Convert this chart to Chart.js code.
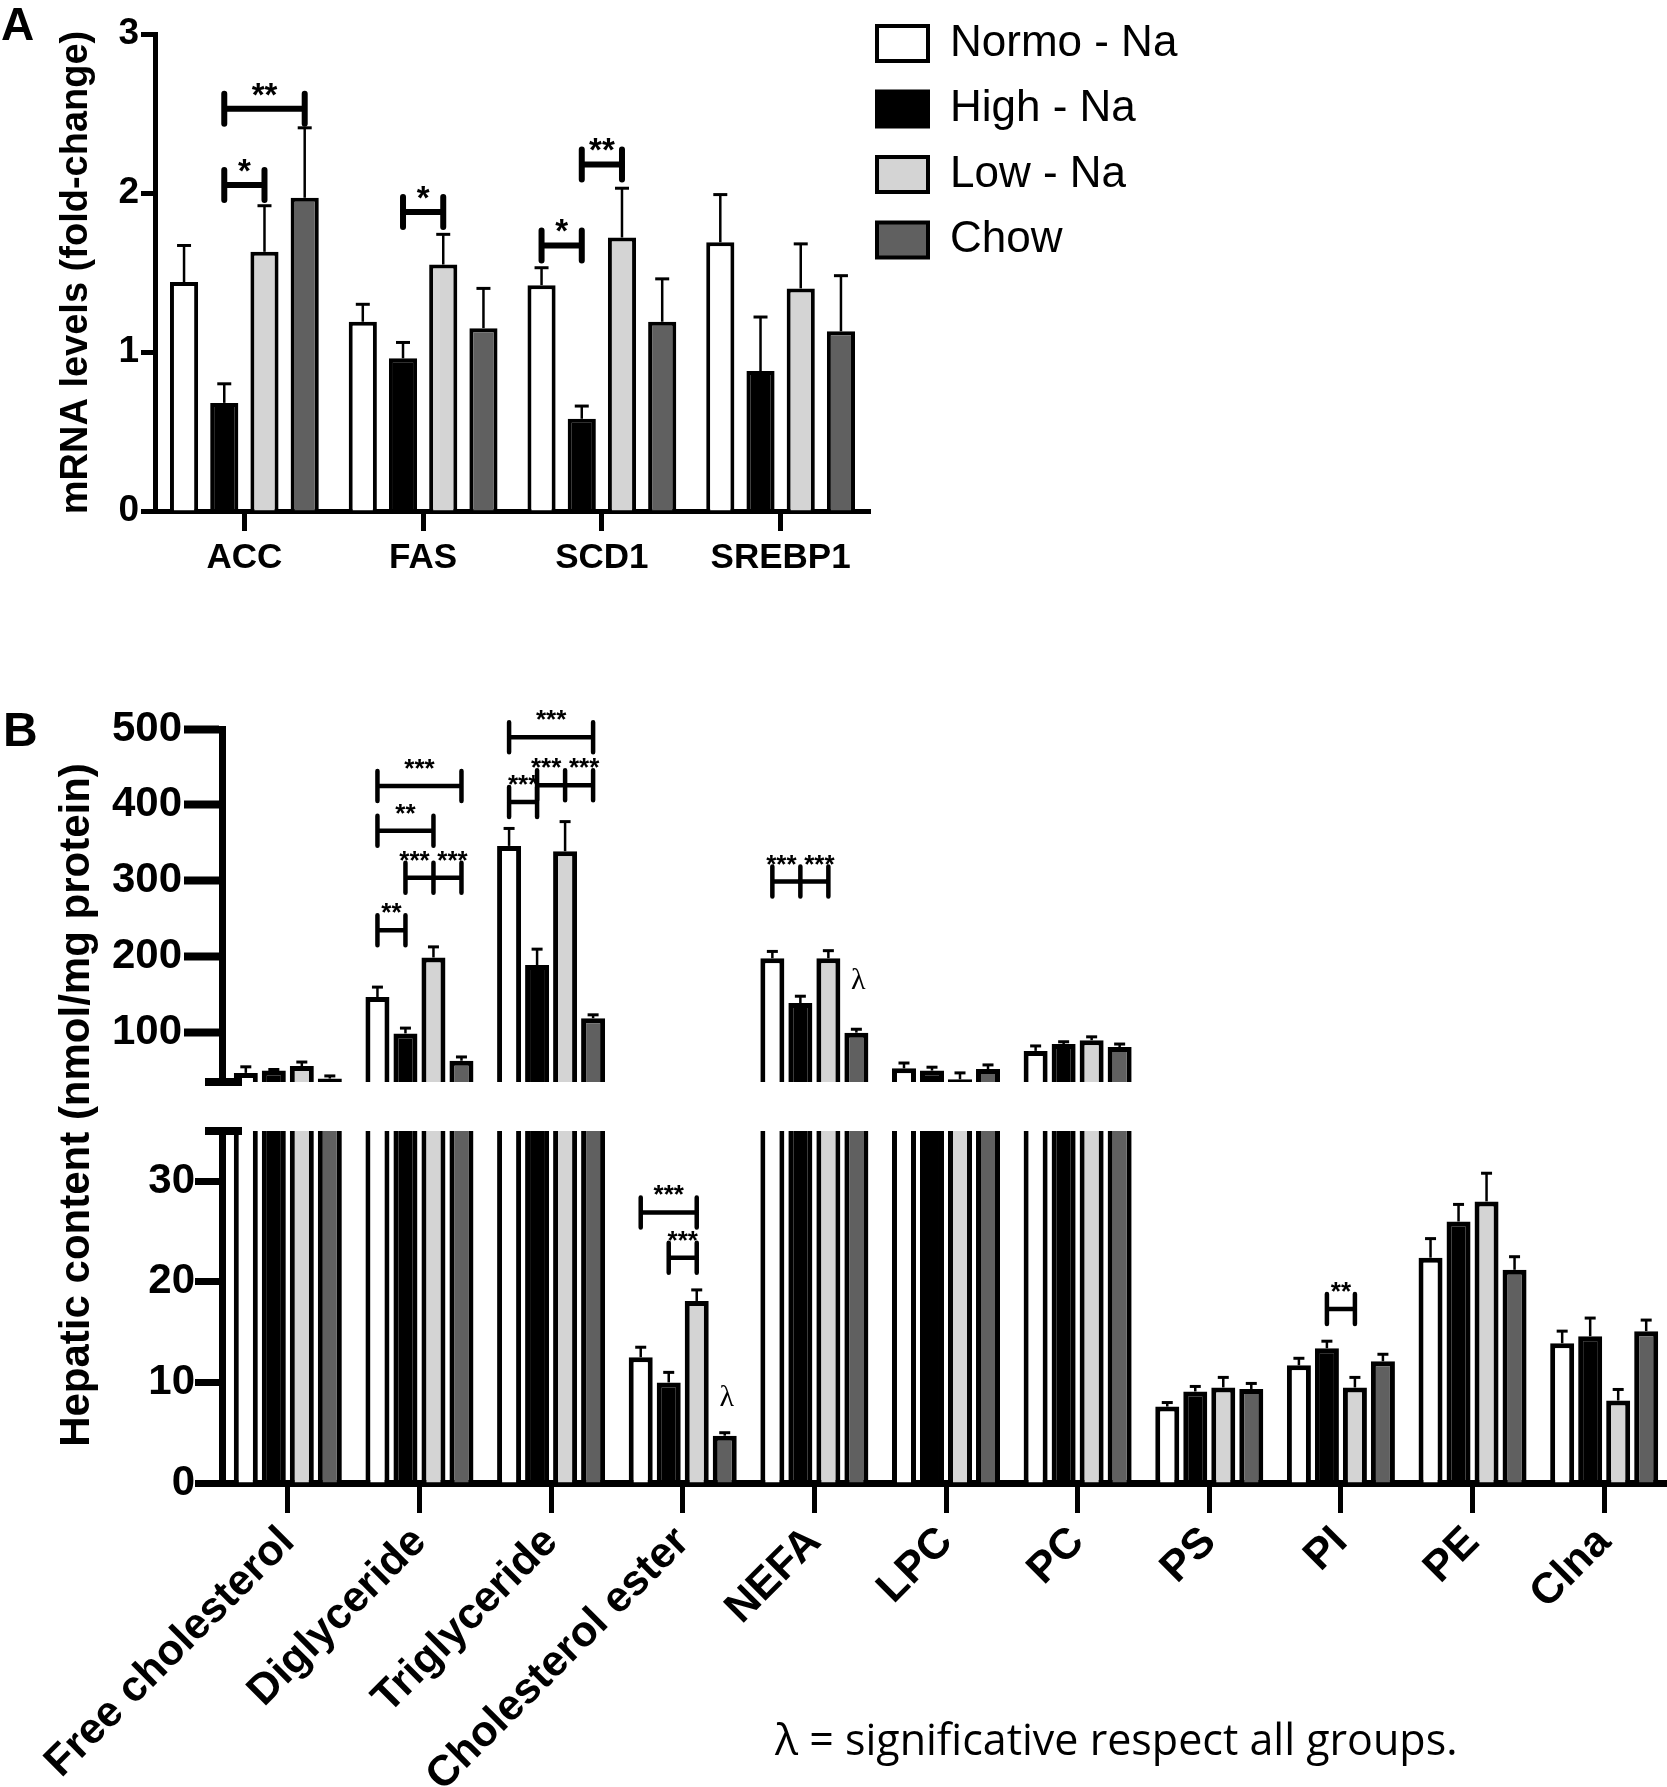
<!DOCTYPE html>
<html><head><meta charset="utf-8">
<script src="https://cdn.jsdelivr.net/npm/chart.js@4.4.1/dist/chart.umd.min.js"></script>
<style>
html,body{margin:0;padding:0;background:#fff;overflow:hidden;width:1667px;height:1787px;position:relative}
canvas{position:absolute;left:0}
</style></head><body>
<canvas id="cA" width="1667" height="620" style="top:0"></canvas>
<canvas id="cBt" width="1670" height="410" style="top:690px"></canvas>
<canvas id="cBb" width="1670" height="1097" style="top:690px"></canvas>
<script>
// ---------- DATA ----------
const seriesNames = ['Normo - Na', 'High - Na', 'Low - Na', 'Chow'];
const seriesColors = ['#ffffff', '#000000', '#d4d4d4', '#606060'];

// Panel A: mRNA levels (fold-change)
const categoriesA = ['ACC', 'FAS', 'SCD1', 'SREBP1'];
const normoA = [1.44, 1.19, 1.42, 1.69];
const highA  = [0.68, 0.96, 0.58, 0.88];
const lowA   = [1.63, 1.55, 1.72, 1.40];
const chowA  = [1.97, 1.15, 1.19, 1.13];
const normoA_sem = [0.23, 0.11, 0.11, 0.30];
const highA_sem  = [0.12, 0.10, 0.08, 0.34];
const lowA_sem   = [0.29, 0.19, 0.31, 0.28];
const chowA_sem  = [0.44, 0.25, 0.27, 0.35];
const ticksA = [0, 1, 2, 3];
// significance brackets: category index, series indices, y value, labels
const sigA = [
  {cat: 0, pts: [1, 2], y: 2.05, labels: ['*']},
  {cat: 0, pts: [1, 3], y: 2.53, labels: ['**']},
  {cat: 1, pts: [1, 2], y: 1.88, labels: ['*']},
  {cat: 2, pts: [0, 1], y: 1.67, labels: ['*']},
  {cat: 2, pts: [1, 2], y: 2.18, labels: ['**']}
];

// Panel B: hepatic content (nmol/mg protein)
const categoriesB = ['Free cholesterol', 'Diglyceride', 'Triglyceride', 'Cholesterol ester', 'NEFA', 'LPC', 'PC', 'PS', 'PI', 'PE', 'Clna'];
const normoB = [47, 147, 346, 12.5, 198, 53, 76, 7.6, 11.7, 22.4, 13.9];
const highB  = [50, 99, 189, 10.0, 139, 50, 85, 9.1, 13.4, 26.0, 14.6];
const lowB   = [56, 199, 339, 18.1, 198, 38.5, 90, 9.5, 9.5, 28.0, 8.2];
const chowB  = [39.5, 63, 119, 4.7, 100, 52, 81, 9.35, 12.1, 21.2, 15.1];
const normoB_sem = [8, 13, 23, 1.0, 9, 7, 6.5, 0.4, 0.7, 1.9, 1.2];
const highB_sem  = [1.5, 7, 21, 1.0, 9, 4.5, 3, 0.5, 0.7, 1.7, 1.8];
const lowB_sem   = [5.3, 14, 39, 1.1, 10, 8.5, 4.5, 1.0, 1.0, 2.8, 1.1];
const chowB_sem  = [3.5, 5, 4.5, 0.3, 4.5, 5.5, 4, 0.55, 0.7, 1.3, 1.1];
const breakLow = 35;            // axis break value
const ticksBTop = [100, 200, 300, 400, 500];
const ticksBBottom = [0, 10, 20, 30];
const maxBTop = 500;
const sigBTop = [
  {cat: 1, pts: [0, 1], y: 235, labels: ['**']},
  {cat: 1, pts: [1, 2, 3], y: 304, labels: ['***', '***']},
  {cat: 1, pts: [0, 2], y: 366, labels: ['**']},
  {cat: 1, pts: [0, 3], y: 425, labels: ['***']},
  {cat: 2, pts: [0, 1], y: 404, labels: ['***']},
  {cat: 2, pts: [1, 2, 3], y: 426, labels: ['***', '***']},
  {cat: 2, pts: [0, 3], y: 489, labels: ['***']},
  {cat: 4, pts: [0, 1, 2], y: 299, labels: ['***', '***']}
];
const sigBBottom = [
  {cat: 3, pts: [0, 2], y: 26.9, labels: ['***']},
  {cat: 3, pts: [1, 2], y: 22.4, labels: ['***']},
  {cat: 8, pts: [1, 2], y: 17.3, labels: ['**']}
];
const lambdaTop = [{cat: 4, series: 3, y: 168}];
const lambdaBottom = [{cat: 3, series: 3, y: 8.45}];
const footnote = 'λ = significative respect all groups.';

// ---------- SETUP ----------
Chart.defaults.font.family = "'Liberation Sans', Arial, sans-serif";
Chart.defaults.color = '#000';
const FONT = "'Liberation Sans', Arial, sans-serif";

function makeDatasets(vals, bw) {
  return vals.map((d, i) => ({
    label: seriesNames[i], data: d,
    backgroundColor: seriesColors[i], borderColor: '#000', borderWidth: bw,
    borderSkipped: 'start', clip: 0
  }));
}

const errorBars = {
  id: 'errorBars',
  afterDatasetsDraw(chart, args, o) {
    const {ctx} = chart; const ys = chart.scales.y;
    ctx.save(); ctx.strokeStyle = '#000'; ctx.lineCap = 'butt';
    o.sems.forEach((sem, s) => {
      const meta = chart.getDatasetMeta(s);
      const vals = chart.data.datasets[s].data;
      meta.data.forEach((bar, i) => {
        const v = vals[i], t = v + sem[i];
        if (v < ys.min || t > ys.max) return;
        const p0 = ys.getPixelForValue(v), p1 = ys.getPixelForValue(t);
        ctx.lineWidth = o.lw; ctx.beginPath(); ctx.moveTo(bar.x, p0); ctx.lineTo(bar.x, p1); ctx.stroke();
        ctx.lineWidth = o.capLw; ctx.beginPath(); ctx.moveTo(bar.x - o.capW / 2, p1); ctx.lineTo(bar.x + o.capW / 2, p1); ctx.stroke();
      });
    });
    ctx.restore();
  }
};

const brackets = {
  id: 'brackets',
  afterDatasetsDraw(chart, args, o) {
    const {ctx} = chart; const ys = chart.scales.y;
    ctx.save(); ctx.strokeStyle = '#000'; ctx.fillStyle = '#000';
    (o.items || []).forEach(b => {
      const xs = b.pts.map(s => chart.getDatasetMeta(s).data[b.cat].x);
      const py = ys.getPixelForValue(b.y);
      ctx.lineWidth = o.lw; ctx.lineCap = 'round';
      ctx.beginPath(); ctx.moveTo(xs[0], py); ctx.lineTo(xs[xs.length - 1], py);
      xs.forEach(x => { ctx.moveTo(x, py - o.cap); ctx.lineTo(x, py + o.cap); });
      ctx.stroke();
      ctx.font = o.font; ctx.textAlign = 'center'; ctx.textBaseline = 'alphabetic';
      const n = b.labels.length;
      b.labels.forEach((t, k) => {
        let x = (xs[k] + xs[k + 1]) / 2;
        if (n > 1) x += (k === 0 ? -o.spread : (k === n - 1 ? o.spread : 0));
        ctx.fillText(t, x, py - o.textOff);
      });
    });
    (o.lambdas || []).forEach(l => {
      const x = chart.getDatasetMeta(l.series).data[l.cat].x;
      ctx.font = "30px 'Liberation Serif', 'DejaVu Serif', serif";
      ctx.textAlign = 'center'; ctx.textBaseline = 'middle';
      ctx.fillText('λ', x + 2, ys.getPixelForValue(l.y));
    });
    ctx.restore();
  }
};

const axisBreak = {
  id: 'axisBreak',
  afterDraw(chart, args, o) {
    if (!o.where) return;
    const {ctx, chartArea} = chart;
    const py = chart.scales.y.getPixelForValue(breakLow);
    ctx.save(); ctx.fillStyle = '#000';
    ctx.fillRect(chartArea.left - 17, py - 4, 37, 8);
    ctx.restore();
  }
};

const panelText = {
  id: 'panelText',
  afterDraw(chart, args, o) {
    const {ctx} = chart;
    ctx.save(); ctx.fillStyle = '#000';
    (o.items || []).forEach(t => {
      ctx.save();
      ctx.font = t.font; ctx.textAlign = t.align || 'left'; ctx.textBaseline = t.baseline || 'alphabetic';
      ctx.translate(t.x, t.y); if (t.rot) ctx.rotate(t.rot);
      ctx.fillText(t.text, 0, 0);
      ctx.restore();
    });
    ctx.restore();
  }
};

const legendShift = {
  id: 'legendShift',
  afterLayout(chart, args, o) {
    if (o.boxLeft === undefined) return;
    const lg = chart.legend; if (!lg) return;
    const pad = lg.options.labels.padding;
    const d = (o.boxLeft + 2 - pad) - lg.left;
    lg.left += d; lg.right += d;
  }
};
Chart.register(errorBars, brackets, axisBreak, panelText, legendShift);

// ---------- PANEL A ----------
const chartA = new Chart(document.getElementById('cA'), {
  type: 'bar',
  data: { labels: categoriesA, datasets: makeDatasets([normoA, highA, lowA, chowA], 4) },
  options: {
    responsive: false, animation: false, events: [],
    layout: { padding: { top: 0, left: 0, right: 0, bottom: 0 } },
    datasets: { bar: { categoryPercentage: 0.9, barPercentage: 0.7 } },
    scales: {
      x: {
        offset: true,
        grid: { offset: false, drawOnChartArea: false, drawTicks: true, tickLength: 20, tickWidth: 5, tickColor: '#000' },
        border: { display: true, width: 5, color: '#000' },
        ticks: { font: { size: 35, weight: 'bold' }, padding: 6, maxRotation: 0 },
        afterFit: s => { s.height = 109; }
      },
      y: {
        min: 0, max: 3,
        afterBuildTicks: s => { s.ticks = ticksA.map(v => ({value: v})); },
        grid: { drawOnChartArea: false, drawTicks: true, tickLength: 14, tickWidth: 5, tickColor: '#000' },
        border: { display: true, width: 5, color: '#000' },
        ticks: { font: { size: 37, weight: 'bold' }, padding: 2 },
        title: { display: true, text: 'mRNA levels (fold-change)', font: { size: 38, weight: 'bold' }, padding: { top: 54, bottom: 0 } },
        afterFit: s => { s.width = 155; s.paddingTop = 34; }
      }
    },
    plugins: {
      legend: {
        display: true, position: 'right', align: 'start', maxWidth: 600,
        labels: { boxWidth: 51, boxHeight: 35, padding: 21.5, font: { size: 44 }, color: '#000' }
      },
      tooltip: { enabled: false },
      legendShift: { boxLeft: 875 },
      errorBars: { sems: [normoA_sem, highA_sem, lowA_sem, chowA_sem], lw: 2.5, capW: 14, capLw: 3 },
      brackets: { items: sigA, lw: 6, cap: 15, font: "bold 33px " + FONT, textOff: 3, spread: 0 },
      panelText: { items: [ {text: 'A', x: 1, y: 40, font: "bold 46px " + FONT} ] }
    }
  }
});
// keep chart area right edge at x = 870
for (let k = 0; k < 3; k++) {
  chartA.options.layout.padding.right = Math.max(0, chartA.options.layout.padding.right + chartA.chartArea.right - 870);
  chartA.update('none');
}

// ---------- PANEL B ----------
function bOptions(top) {
  return {
    responsive: false, animation: false, events: [],
    layout: { padding: top ? { top: 39, bottom: 18, left: 0, right: 0 } : { top: 441, bottom: 0, left: 0, right: 0 } },
    datasets: { bar: { categoryPercentage: 0.851, barPercentage: 0.857 } },
    scales: {
      x: {
        display: !top, offset: true,
        grid: { offset: false, drawOnChartArea: false, drawTicks: true, tickLength: 30, tickWidth: 5, tickColor: '#000' },
        border: { display: true, width: 7, color: '#000' },
        ticks: { font: { size: 43, weight: 'bold' }, padding: 4, minRotation: 45, maxRotation: 45, autoSkip: false },
        afterFit: s => { if (!top) s.height = 304; }
      },
      y: {
        min: top ? breakLow : 0, max: top ? maxBTop : breakLow,
        afterBuildTicks: s => { s.ticks = (top ? ticksBTop : ticksBBottom).map(v => ({value: v})); },
        grid: { drawOnChartArea: false, drawTicks: true, tickLength: top ? 38 : 27, tickWidth: top ? 8 : 7, tickColor: '#000' },
        border: { display: true, width: 7, color: '#000' },
        ticks: { font: { size: 42, weight: 'bold' }, padding: top ? 2 : 0 },
        afterFit: s => { s.width = 222; s.paddingTop = 0; s.paddingBottom = 0; }
      }
    },
    plugins: {
      legend: { display: false }, tooltip: { enabled: false },
      errorBars: { sems: [normoB_sem, highB_sem, lowB_sem, chowB_sem], lw: 2.5, capW: 11, capLw: 3 },
      brackets: { items: top ? sigBTop : sigBBottom, lambdas: top ? lambdaTop : lambdaBottom, lw: 4.5, cap: 15, font: "bold 26px " + FONT, textOff: 9, spread: 5 },
      axisBreak: { where: top ? 'bottom' : 'top' },
      panelText: { items: top ? [] : [
        {text: 'B', x: 3, y: 56, font: "bold 48px " + FONT},
        {text: 'Hepatic content (nmol/mg protein)', x: 77, y: 415, rot: -Math.PI / 2, align: 'center', baseline: 'middle', font: "bold 42px " + FONT},
        {text: footnote, x: 775, y: 1053, baseline: 'middle', font: "43px 'Open Sans', 'Noto Sans', sans-serif"}
      ] }
    }
  };
}
const valsB = [normoB, highB, lowB, chowB];
const chartBt = new Chart(document.getElementById('cBt'), {
  type: 'bar', data: { labels: categoriesB, datasets: makeDatasets(valsB, 5) }, options: bOptions(true)
});
const chartBb = new Chart(document.getElementById('cBb'), {
  type: 'bar', data: { labels: categoriesB, datasets: makeDatasets(valsB, 5) }, options: bOptions(false)
});
</script>
</body></html>
